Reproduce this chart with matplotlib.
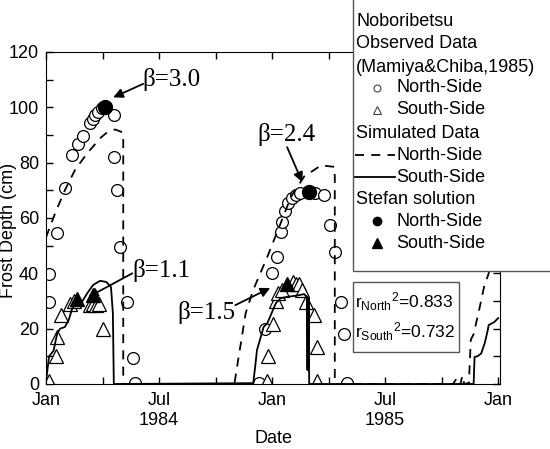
import matplotlib
matplotlib.use("Agg")
import matplotlib.pyplot as plt
from matplotlib.patches import Rectangle
from matplotlib.lines import Line2D
import numpy as np

plt.rcParams['font.family'] = ['Liberation Sans', 'DejaVu Sans']
plt.rcParams['mathtext.fontset'] = 'custom'
plt.rcParams['mathtext.rm'] = 'Liberation Sans'
plt.rcParams['mathtext.it'] = 'Liberation Sans'
plt.rcParams['mathtext.default'] = 'regular'

# x values are months counted from 1 Jan 1984
north_obs_x = [0.16, 0.16, 0.58, 1.0, 1.4, 1.7, 1.95, 2.34, 2.47, 2.6, 2.77, 2.96,
               3.6, 3.62, 3.77, 3.93, 4.3, 4.62, 4.7,
               11.3, 11.65, 12.0, 12.25, 12.45, 12.55, 12.7, 12.85, 13.05, 13.25, 13.5,
               14.3, 14.75, 15.05, 15.35, 15.65, 15.8, 16.0]
north_obs_y = [39.8, 29.6, 54.6, 71, 82.8, 86.8, 89.8, 94.3, 95.8, 97.2, 98.4, 99.6,
               97.2, 82, 70, 49.5, 29.6, 9.4, 0.4,
               0.4, 19.8, 40, 46, 55, 58.6, 62.5, 65.5, 67.2, 68.3, 69,
               69, 68.3, 57.5, 47.7, 29.6, 18, 0.4]

south_obs_x = [0.16, 0.53, 0.6, 0.8, 1.3, 1.5, 2.35, 2.5, 2.65, 2.8, 3.0,
               11.75, 11.8, 12.07, 12.2, 12.3, 12.55, 13.1, 13.25, 13.45, 13.6, 13.8,
               14.25, 14.4, 14.4]
south_obs_y = [1, 10, 17, 25, 29, 30, 28.5, 29, 28.5, 29, 20,
               1, 10, 21.7, 30, 33, 34, 37, 36, 36, 34, 29.6,
               25, 13.5, 1]

stefan_north_x = [3.15, 13.95]
stefan_north_y = [100, 69.4]
stefan_south_x = [1.65, 2.5, 12.8]
stefan_south_y = [30.7, 32.2, 36.2]

sim_north_x = [0, 0.5, 1.0, 1.55, 2.2, 2.9, 3.25, 3.67, 4.05, 4.1, 4.1,
               10.0, 10.2, 10.6, 11.0, 11.75, 12.45, 13.0, 13.7, 14.6, 15.3, 15.33, 15.33,
               21.6, 21.8, 21.85, 22.0, 22.1, 22.2, 22.45, 22.55, 22.7, 23.0, 23.25, 23.5, 24.0]
sim_north_y = [53, 62, 70, 77.5, 83.5, 89, 91, 92, 91, 89, 0,
               0, 8.7, 25.6, 34, 46, 58, 67.6, 75, 79, 78.5, 75, 0,
               0, 2, 0, 0, 3, 0, 0.4, 16, 18, 27, 35, 40, 60]

sim_south_x = [0, 0.16, 0.4, 0.6, 0.75, 1.0, 1.2, 1.4, 1.65, 1.9, 2.2, 2.5, 2.87,
               3.2, 3.45, 3.55, 3.6,
               11.0, 11.1, 11.2, 11.4, 11.55, 11.75, 12.0, 12.2, 12.45, 12.8, 13.35,
               13.7, 13.85, 13.88, 13.9, 13.92, 13.95, 13.97,
               22.7, 22.75, 22.9, 23.1, 23.2, 23.3, 23.45, 23.5, 23.8, 24.0]
sim_south_y = [0.7, 10, 12, 18.4, 20, 20.6, 23, 27.5, 29.2, 29.6, 32.9, 35.8, 37.3,
               36.9, 35, 25.6, 0,
               0.3, 6, 12.3, 17, 20.6, 22, 26, 29.2, 31, 31.5, 32,
               32.5, 31.4, 5, 31, 5, 31, 0,
               0, 9.8, 10, 11, 13, 15, 19.5, 21.3, 22.4, 23.8]

tick_pos = [0, 6, 12, 18, 24]
tick_labels = ['Jan', 'Jul\n1984', 'Jan', 'Jul\n1985', 'Jan']

FS = 13

fig = plt.figure(figsize=(5.5, 4.49), dpi=100)
ax = fig.add_axes([46 / 550, 1 - 384 / 449, 454 / 550, 332 / 449])

ax.plot(north_obs_x, north_obs_y, 'o', ms=8.5, mfc='white', mec='black', mew=0.9, zorder=2)
ax.plot(south_obs_x, south_obs_y, '^', ms=9.5, mfc='white', mec='black', mew=0.9, zorder=2)
ax.plot(sim_north_x, sim_north_y, color='black', lw=1.3, dashes=(5, 4), zorder=3)
ax.plot(sim_south_x, sim_south_y, color='black', lw=1.3, zorder=3)
ax.plot(stefan_north_x, stefan_north_y, 'o', ms=10, color='black', zorder=4)
ax.plot(stefan_south_x, stefan_south_y, '^', ms=10, color='black', zorder=4)
for sp in ax.spines.values():
    sp.set_zorder(5)

ax.set_xlim(0, 24.1)
ax.set_ylim(0, 120)
ax.set_xticks(tick_pos)
ax.set_xticklabels(tick_labels, linespacing=1.2)
ax.set_xticks([3, 9, 15, 21], minor=True)
ax.set_yticks(np.arange(0, 121, 20))
ax.set_yticks(np.arange(10, 120, 20), minor=True)
ax.tick_params(which='both', direction='in', top=True, right=True, length=5, width=1,
               labelsize=FS)
ax.tick_params(axis='x', pad=6)
ax.tick_params(axis='y', pad=5)
ax.set_xlabel('Date', fontsize=FS, labelpad=1)
ax.set_ylabel('Frost Depth (cm)', fontsize=FS)
ax.yaxis.set_label_coords(-0.063, 0.464)

# beta annotations
serif = dict(family='Liberation Serif', fontsize=18)
ax.text(5.1, 110, 'β=3.0', va='center', **serif)
ax.text(11.2, 90, 'β=2.4', va='center', **serif)
ax.text(4.6, 41.2, 'β=1.1', va='center', **serif)
ax.text(6.97, 26, 'β=1.5', va='center', **serif)
arrow = dict(arrowstyle='-|>', color='black', lw=1.3, mutation_scale=14, shrinkA=0, shrinkB=0)
ax.annotate('', xy=(3.57, 103.6), xytext=(5.16, 108.5), arrowprops=arrow)
ax.annotate('', xy=(13.6, 73), xytext=(12.8, 85.6), arrowprops=arrow)
ax.annotate('', xy=(2.24, 31.4), xytext=(4.58, 40), arrowprops=arrow)
ax.annotate('', xy=(11.9, 34.7), xytext=(10.05, 28.5), arrowprops=arrow)

W, H = 550, 449


def fx(px):
    return px / W


def fy(py):
    return 1 - py / H


# legend box (runs past the top and right edge)
fig.add_artist(Rectangle((fx(353), fy(271)), 0.5, 0.8, transform=fig.transFigure,
                         facecolor='white', edgecolor='#555555', lw=1, zorder=5))
leg_rows = [22, 44, 67, 88, 110, 133, 155, 177, 199, 221, 243]
headers = {0: 'Noboribetsu', 1: 'Observed Data', 2: '(Mamiya&Chiba,1985)',
           5: 'Simulated Data', 8: 'Stefan solution'}
for i, t in headers.items():
    fig.text(fx(356), fy(leg_rows[i]), t, fontsize=FS, va='center', zorder=6)
for i in [3, 4, 6, 7, 9, 10]:
    fig.text(fx(396), fy(leg_rows[i]), 'North-Side' if i in (3, 6, 9) else 'South-Side',
             fontsize=FS, va='center', zorder=6)
fig.add_artist(Line2D([fx(377)], [fy(leg_rows[3])], marker='o', ms=5, mfc='white',
                      mec='#444444', mew=0.8, transform=fig.transFigure, zorder=6))
fig.add_artist(Line2D([fx(377)], [fy(leg_rows[4])], marker='^', ms=5.5, mfc='white',
                      mec='#444444', mew=0.8, transform=fig.transFigure, zorder=6))
fig.add_artist(Line2D([fx(355), fx(395)], [fy(leg_rows[6])] * 2, color='black', lw=1.3,
                      dashes=(5, 4), transform=fig.transFigure, zorder=6))
fig.add_artist(Line2D([fx(355), fx(395)], [fy(leg_rows[7])] * 2, color='black', lw=1.3,
                      transform=fig.transFigure, zorder=6))
fig.add_artist(Line2D([fx(377)], [fy(leg_rows[9])], marker='o', ms=6, color='black',
                      transform=fig.transFigure, zorder=6))
fig.add_artist(Line2D([fx(377)], [fy(leg_rows[10])], marker='^', ms=6.5, color='black',
                      transform=fig.transFigure, zorder=6))

# r^2 box
fig.add_artist(Rectangle((fx(353), fy(352)), (459 - 353) / W, 70 / H, transform=fig.transFigure,
                         facecolor='white', edgecolor='#555555', lw=1, zorder=5))
fig.text(fx(355), fy(302), r'r$_{North}$$^{2}$=0.833', fontsize=12.5, va='center', zorder=6)
fig.text(fx(355), fy(332), r'r$_{South}$$^{2}$=0.732', fontsize=12.5, va='center', zorder=6)

fig.savefig('out.png', dpi=100)
